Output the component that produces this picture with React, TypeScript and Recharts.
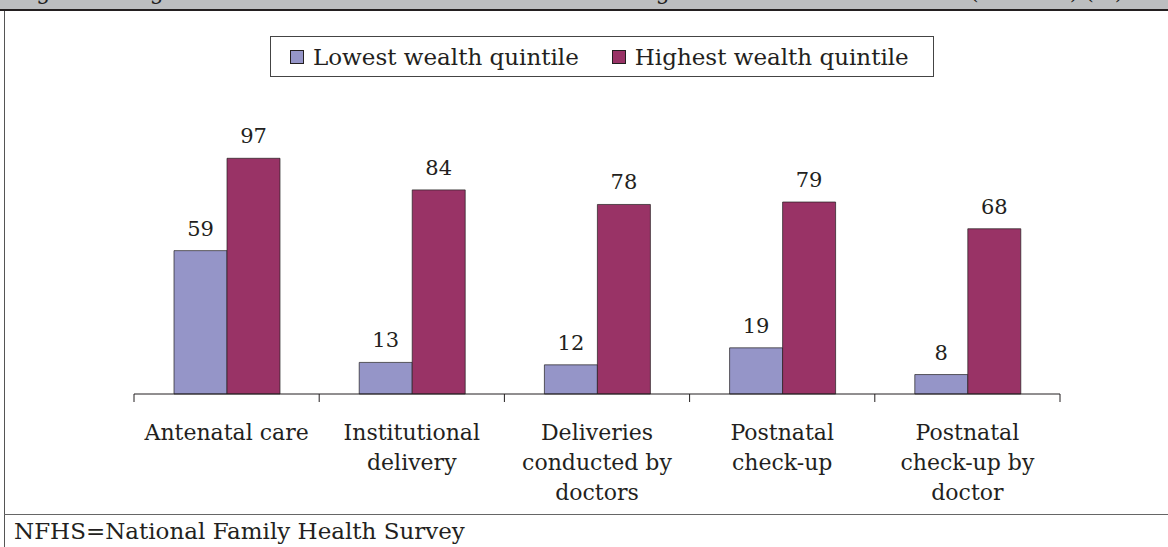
import React from "react";
import { BarChart, Bar, XAxis, YAxis, Legend, LabelList } from "recharts";

// Categories (multi-line labels) and values in %
const categories = [
  ["Antenatal care"],
  ["Institutional", "delivery"],
  ["Deliveries", "conducted by", "doctors"],
  ["Postnatal", "check-up"],
  ["Postnatal", "check-up by", "doctor"],
];
const lowestQuintile = [59, 13, 12, 19, 8];
const highestQuintile = [97, 84, 78, 79, 68];
const seriesNames = ["Lowest wealth quintile", "Highest wealth quintile"];

const W = 1168;
const H = 547;
const FONT = "'DejaVu Serif', 'Liberation Serif', serif";
const INK = "#231f20";
const colors = ["#9595c8", "#993366"];

const MARGIN = { top: 151, right: 108, left: 134, bottom: 33 };
const PLOT_W = W - MARGIN.left - MARGIN.right;
const STEP = PLOT_W / categories.length;

const chartData = categories.map((c, i) => ({
  name: c.join(" "),
  lines: c,
  low: lowestQuintile[i],
  high: highestQuintile[i],
}));

// category label + boundary tick marks
const CategoryTick = (props: any) => {
  const { x, y, index } = props;
  const lines: string[] = chartData[index]?.lines ?? [];
  return (
    <g>
      <line x1={x - STEP / 2} y1={y} x2={x - STEP / 2} y2={y + 8} stroke={INK} />
      {index === categories.length - 1 && (
        <line x1={x + STEP / 2} y1={y} x2={x + STEP / 2} y2={y + 8} stroke={INK} />
      )}
      <text
        x={x}
        y={y + 46}
        textAnchor="middle"
        fill={INK}
        fontSize={22}
        fontFamily={FONT}
      >
        {lines.map((l, i) => (
          <tspan key={i} x={x} dy={i === 0 ? 0 : 30}>
            {l}
          </tspan>
        ))}
      </text>
    </g>
  );
};

const LegendBox = () => (
  <div
    style={{
      border: "1px solid #444",
      width: 664,
      height: 41,
      boxSizing: "border-box",
      display: "flex",
      alignItems: "center",
      paddingLeft: 19,
      fontFamily: FONT,
      fontSize: 23,
      color: INK,
      background: "#fff",
      whiteSpace: "nowrap",
    }}
  >
    {seriesNames.map((n, i) => (
      <span
        key={n}
        style={{
          display: "flex",
          alignItems: "center",
          marginRight: 33,
          flexShrink: 0,
          whiteSpace: "nowrap",
        }}
      >
        <span
          style={{
            width: 12,
            height: 12,
            background: colors[i],
            border: `1px solid ${INK}`,
            marginRight: 9,
            display: "inline-block",
            flexShrink: 0,
          }}
        />
        {n}
      </span>
    ))}
  </div>
);

export default function App() {
  return (
    <div
      style={{
        position: "fixed",
        top: 0,
        left: 0,
        width: W,
        height: H,
        background: "#fff",
        overflow: "hidden",
      }}
    >
      {/* clipped title band */}
      <div
        style={{
          position: "absolute",
          top: 0,
          left: 0,
          width: W,
          height: 9,
          background: "#bcbec0",
          overflow: "hidden",
        }}
      >
        <div
          style={{
            position: "absolute",
            top: -21,
            left: 14,
            fontFamily: FONT,
            fontSize: 22,
            color: INK,
            whiteSpace: "nowrap",
          }}
        >
          Figure 2: Higher access to maternal health care according to maternal wealth status (NFHS-3) (%)
        </div>
      </div>
      <div style={{ position: "absolute", top: 9, left: 0, width: W, height: 2, background: INK }} />
      <div style={{ position: "absolute", top: 11, left: 4, width: 1, height: H - 11, background: "#555" }} />
      <div style={{ position: "absolute", top: 514, left: 4, width: W - 4, height: 1, background: "#666" }} />
      <div
        style={{
          position: "absolute",
          top: 518,
          left: 14,
          fontFamily: FONT,
          fontSize: 23,
          color: INK,
          whiteSpace: "nowrap",
        }}
      >
        NFHS=National Family Health Survey
      </div>

      <div style={{ position: "absolute", top: 0, left: 0 }}>
        <BarChart
          width={W}
          height={H}
          data={chartData}
          margin={MARGIN}
          barCategoryGap="21.6%"
          barGap={0}
        >
          <XAxis
            dataKey="name"
            interval={0}
            height={120}
            axisLine={{ stroke: INK }}
            tickLine={false}
            tickSize={0}
            tickMargin={0}
            tick={<CategoryTick />}
          />
          <YAxis hide domain={[0, 100]} width={0} />
          <Legend
            layout="horizontal"
            verticalAlign="middle"
            align="center"
            content={<LegendBox />}
            wrapperStyle={{ position: "absolute", top: 36, left: 270, width: 664 }}
          />
          <Bar
            dataKey="low"
            name={seriesNames[0]}
            fill={colors[0]}
            stroke={INK}
            strokeWidth={0.7}
            isAnimationActive={false}
          >
            <LabelList
              dataKey="low"
              position="top"
              offset={15}
              fill={INK}
              fontSize={21}
              fontFamily={FONT}
            />
          </Bar>
          <Bar
            dataKey="high"
            name={seriesNames[1]}
            fill={colors[1]}
            stroke={INK}
            strokeWidth={0.7}
            isAnimationActive={false}
          >
            <LabelList
              dataKey="high"
              position="top"
              offset={15}
              fill={INK}
              fontSize={21}
              fontFamily={FONT}
            />
          </Bar>
        </BarChart>
      </div>
    </div>
  );
}
